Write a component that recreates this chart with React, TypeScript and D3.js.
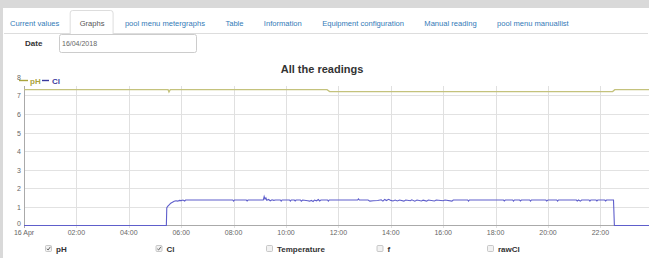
import * as d3 from "d3"
import { useMemo } from "react"

const tabLabels = ["Current values", "Graphs", "pool menu metergraphs", "Table", "Information", "Equipment configuration", "Manual reading", "pool menu manuallist"]
const activeTab = "Graphs"
const dateValue = "16/04/2018"
const chartTitle = "All the readings"

const yTicks = [0, 1, 2, 3, 4, 5, 6, 7, 8]
const xTickHours = [0, 2, 4, 6, 8, 10, 12, 14, 16, 18, 20, 22]
const xTickLabels = ["16 Apr", "02:00", "04:00", "06:00", "08:00", "10:00", "12:00", "14:00", "16:00", "18:00", "20:00", "22:00"]

const phTimes = ["00:00", "05:30", "05:32", "05:35", "11:34", "11:40", "22:28", "22:33", "24:00"]
const phValues = [7.3, 7.3, 7.18, 7.3, 7.3, 7.2, 7.2, 7.3, 7.3]

const clTimes = [
    "00:00", "05:26", "05:27", "05:30", "05:33", "05:36", "05:40", "05:44", "05:48", "05:52", "05:56", "06:00",
    "06:04", "06:08", "06:10", "07:00", "07:58", "08:00", "08:02", "08:29", "08:31", "08:33", "09:08", "09:10",
    "09:12", "09:14", "09:16", "09:20", "09:24", "09:28", "09:32", "09:36", "09:47", "09:49", "09:51", "10:08",
    "10:10", "10:12", "10:19", "10:21", "10:23", "10:33", "10:35", "10:38", "10:50", "10:54", "10:58", "11:02",
    "11:05", "11:10", "11:14", "11:17", "11:20", "11:35", "11:37", "11:39", "12:44", "12:46", "12:48", "13:08",
    "13:12", "13:20", "13:30", "13:38", "13:42", "13:46", "13:50", "13:55", "14:00", "14:05", "14:10", "14:15",
    "14:20", "14:30", "14:34", "14:45", "14:48", "14:55", "15:00", "15:10", "15:14", "15:22", "15:26", "15:40",
    "15:44", "16:00", "16:04", "16:20", "16:23", "16:56", "16:58", "17:00", "18:18", "18:20", "18:22", "18:39",
    "18:41", "18:43", "18:55", "18:57", "18:59", "19:18", "19:20", "19:22", "19:55", "19:57", "20:00", "20:20",
    "20:22", "20:24", "21:05", "21:07", "21:10", "21:14", "21:17", "21:34", "21:36", "21:38", "21:50", "21:52",
    "21:54", "22:10", "22:12", "22:14", "22:30", "22:32", "24:00",
]
const clValues = [
    0, 0, 0.96, 1.05, 1.12, 1.2, 1.25, 1.3, 1.33, 1.31, 1.35, 1.34,
    1.37, 1.32, 1.37, 1.37, 1.37, 1.31, 1.37, 1.37, 1.32, 1.37, 1.37, 1.56,
    1.42, 1.48, 1.36, 1.4, 1.33, 1.38, 1.35, 1.37, 1.37, 1.31, 1.37, 1.37,
    1.31, 1.37, 1.37, 1.32, 1.37, 1.37, 1.31, 1.37, 1.33, 1.31, 1.35, 1.29,
    1.37, 1.33, 1.4, 1.32, 1.37, 1.37, 1.31, 1.37, 1.37, 1.43, 1.37, 1.37,
    1.31, 1.33, 1.34, 1.38, 1.31, 1.4, 1.34, 1.41, 1.35, 1.32, 1.37, 1.32,
    1.37, 1.31, 1.37, 1.33, 1.38, 1.31, 1.37, 1.32, 1.36, 1.31, 1.37, 1.32,
    1.37, 1.33, 1.37, 1.31, 1.37, 1.37, 1.31, 1.37, 1.37, 1.32, 1.37, 1.37,
    1.31, 1.37, 1.37, 1.32, 1.37, 1.37, 1.31, 1.37, 1.37, 1.32, 1.37, 1.37,
    1.31, 1.37, 1.37, 1.32, 1.37, 1.31, 1.37, 1.37, 1.31, 1.37, 1.37, 1.32,
    1.37, 1.37, 1.32, 1.37, 1.37, 0, 0,
]

const checkLabels = ["pH", "Cl", "Temperature", "f", "rawCl"]
const checkState = [true, true, false, false, false]

const FONT = "'Liberation Sans', Arial, sans-serif"
const TAB_FONT_SIZE = 7.6
const PH_COLOR = "#c4c27c"
const CL_COLOR = "#5e5ecb"

const day = new Date(2018, 3, 16)
const toDate = (hm: string) => {
    const [h, m] = hm.split(":").map(Number)
    return new Date(day.getTime() + (h * 60 + m) * 60000)
}

export default function App() {
    const width = 649
    const height = 258

    const x = d3.scaleTime([day, d3.timeDay.offset(day, 1)], [24, 652.8])
    const y = d3.scaleLinear([0, 8], [225.5, 76.7])

    const line = d3.line<[Date, number]>()
        .x(d => x(d[0]))
        .y(d => y(d[1]))

    const phPath = line(phTimes.map((t, i) => [toDate(t), phValues[i]]))
    const clPath = line(clTimes.map((t, i) => [toDate(t), clValues[i]]))

    // lay out the tabs from measured text widths
    const tabs = useMemo(() => {
        const ctx = document.createElement("canvas").getContext("2d")
        let cur = 10
        return tabLabels.map(label => {
            let w = label.length * 4
            if (ctx) {
                ctx.font = `${TAB_FONT_SIZE}px ${FONT}`
                w = ctx.measureText(label).width
            }
            const t = { label, x: cur, w }
            cur += w + 20.3
            return t
        })
    }, [])

    const active = tabs.find(t => t.label === activeTab)!
    const hourDate = (h: number) => d3.timeHour.offset(day, h)

    return (
        <svg width={width} height={height} style={{ position: "absolute", left: 0, top: 0, fontFamily: FONT }}>
            <rect width={width} height={height} fill="#d9d9d9" />
            <rect x={3} y={8} width={width - 3} height={height - 8} fill="#fff" />

            {/* tabs */}
            <line x1={4} x2={648} y1={33.5} y2={33.5} stroke="#ddd" />
            <path
                d={`M${active.x - 9.5},34 V13 Q${active.x - 9.5},10.5 ${active.x - 7},10.5 H${active.x + active.w + 6} Q${active.x + active.w + 8.5},10.5 ${active.x + active.w + 8.5},13 V34`}
                fill="#fff" stroke="#ddd" />
            {tabs.map(t => (
                <text key={t.label} x={t.x} y={25.5} fontSize={TAB_FONT_SIZE} fill={t.label === activeTab ? "#555" : "#337ab7"}>{t.label}</text>
            ))}

            {/* date field */}
            <text x={25} y={46} fontSize={8} fontWeight="bold" fill="#333">Date</text>
            <rect x={59.5} y={34.5} width={137} height={18} rx={2} fill="#fff" stroke="#ccc" />
            <text x={62} y={46} fontSize={7} fill="#666">{dateValue}</text>

            <text x={322} y={73} fontSize={11} fontWeight="bold" fill="#333" textAnchor="middle">{chartTitle}</text>

            {/* grid */}
            {yTicks.filter(v => v > 0 && v < 8).map(v => (
                <line key={v} x1={24} x2={width} y1={Math.round(y(v)) + 0.5} y2={Math.round(y(v)) + 0.5} stroke="#e2e2e2" />
            ))}
            {xTickHours.filter(h => h > 0).map(h => (
                <line key={h} x1={Math.round(x(hourDate(h))) + 0.5} x2={Math.round(x(hourDate(h))) + 0.5} y1={86} y2={228} stroke="#e0e0e0" />
            ))}
            <line x1={24.5} x2={24.5} y1={86} y2={228} stroke="#aaa" />
            <line x1={24} x2={width} y1={225.5} y2={225.5} stroke="#aaa" />

            {yTicks.map(v => (
                <text key={v} x={21} y={v === 0 ? y(v) : y(v) + 3} fontSize={7} fill="#666" textAnchor="end">{v}</text>
            ))}
            {xTickHours.map((h, i) => (
                <text key={h} x={x(hourDate(h))} y={234.5} fontSize={7} fill="#666" textAnchor="middle">{xTickLabels[i]}</text>
            ))}

            {/* series */}
            <path d={phPath ?? ""} fill="none" stroke={PH_COLOR} strokeWidth={1.3} />
            <path d={clPath ?? ""} fill="none" stroke={CL_COLOR} strokeWidth={1.1} />

            {/* legend */}
            <line x1={19} x2={28} y1={80.5} y2={80.5} stroke="#aaa43c" strokeWidth={1.4} />
            <text x={30} y={83.5} fontSize={8} fontWeight="bold" fill="#aaa43c">pH</text>
            <line x1={42} x2={49} y1={80.5} y2={80.5} stroke="#3a3a9e" strokeWidth={1.4} />
            <text x={52} y={83.5} fontSize={8} fontWeight="bold" fill="#3a3a9e">Cl</text>

            {/* series toggles */}
            {checkLabels.map((label, i) => {
                const bx = 45.5 + i * 110.5
                return (
                    <g key={label}>
                        <rect x={bx} y={245.5} width={6} height={6} rx={1} fill="#f2f2f2" stroke="#bbb" strokeWidth={0.8} />
                        {checkState[i] && (
                            <path d={`M${bx + 1.3},${248.8} L${bx + 2.6},${250} L${bx + 4.9},${246.8}`} fill="none" stroke="#555" strokeWidth={0.9} />
                        )}
                        <text x={bx + 10.5} y={252} fontSize={8} fontWeight="bold" fill="#333">{label}</text>
                    </g>
                )
            })}
        </svg>
    )
}
